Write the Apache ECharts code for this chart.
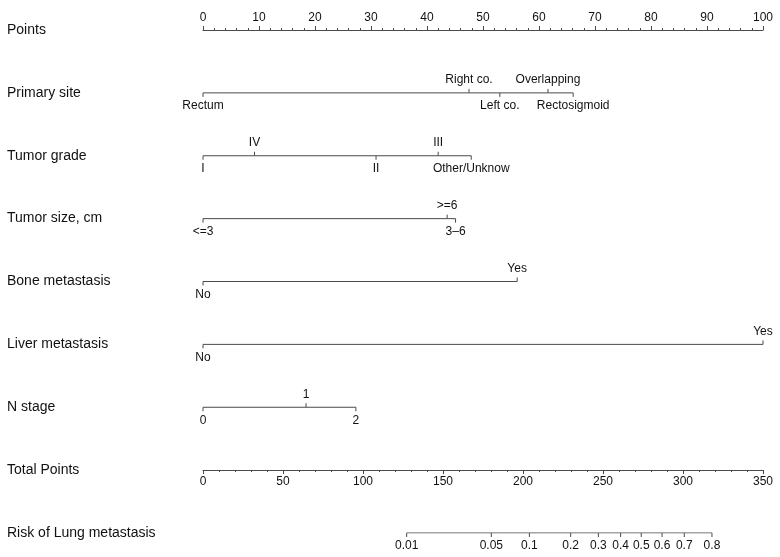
<!DOCTYPE html>
<html>
<head>
<meta charset="utf-8">
<script src="https://cdn.jsdelivr.net/npm/echarts@6.0.0/dist/echarts.min.js"></script>
<style>
html, body { margin: 0; padding: 0; background: #fff; }
#chart { width: 780px; height: 557px; }
</style>
</head>
<body>
<div id="chart"></div>
<script>
// row titles, top to bottom
const rowTitles = ['Points', 'Primary site', 'Tumor grade', 'Tumor size, cm', 'Bone metastasis',
	'Liver metastasis', 'N stage', 'Total Points', 'Risk of Lung metastasis'];

// levels of each predictor, sorted by points (0-100 scale)
const siteLabels = ['Rectum', 'Right co.', 'Left co.', 'Overlapping', 'Rectosigmoid'];
const sitePoints = [0, 47.5, 53, 61.6, 66.1];
const gradeLabels = ['I', 'IV', 'II', 'III', 'Other/Unknow'];
const gradePoints = [0, 9.2, 30.9, 42, 47.9];
const sizeLabels = ['<=3', '>=6', '3–6'];
const sizePoints = [0, 43.6, 45.1];
const boneLabels = ['No', 'Yes'];
const bonePoints = [0, 56.1];
const liverLabels = ['No', 'Yes'];
const liverPoints = [0, 100];
const nLabels = ['0', '1', '2'];
const nPoints = [0, 18.4, 27.3];

// risk scale: label and where it sits on the total points axis
const riskLabels = ['0.01', '0.05', '0.1', '0.2', '0.3', '0.4', '0.5', '0.6', '0.7', '0.8'];
const riskTotal = [127.3, 180.2, 204, 229.8, 247.1, 261, 273.9, 286.9, 300.8, 318.1];

const LINE = '#4a4a4a';
const TEXT = '#111';
const FONT = '"Liberation Sans", Arial, sans-serif';

const variables = [
	[siteLabels, sitePoints],
	[gradeLabels, gradePoints],
	[sizeLabels, sizePoints],
	[boneLabels, bonePoints],
	[liverLabels, liverPoints],
	[nLabels, nPoints]
];

// one tick per level; labels alternate below / above
const tickItems = [];
variables.forEach(([labels, pts], k) => {
	labels.forEach((lab, j) => {
		tickItems.push({ value: [pts[j], k + 1], name: lab, up: j % 2 === 1 });
	});
});
const riskItems = riskLabels.map((lab, j) => ({ value: [riskTotal[j], 8], name: lab, up: false }));

function tickRenderer(items) {
	return function(params, api) {
		const it = items[params.dataIndex];
		const p = api.coord(it.value);
		const d = it.up ? -1 : 1;
		return {
			type: 'group',
			children: [
				{
					type: 'line',
					shape: { x1: p[0], y1: p[1], x2: p[0], y2: p[1] + d * 4 },
					style: { stroke: LINE, lineWidth: 1 }
				},
				{
					type: 'text',
					x: p[0],
					y: p[1] + d * 13,
					style: {
						text: it.name, align: 'center', verticalAlign: 'middle',
						fontSize: 12, fontFamily: FONT, fill: TEXT
					}
				}
			]
		};
	};
}

const lineSeries = variables.map(([labels, pts], k) => ({
	type: 'line',
	xAxisIndex: 0,
	yAxisIndex: 0,
	symbol: 'none',
	silent: true,
	lineStyle: { color: LINE, width: 1 },
	data: pts.map(v => [v, k + 1])
}));

const axisStyle = {
	axisLine: { lineStyle: { color: LINE, width: 1 } },
	axisTick: { length: 4, lineStyle: { color: LINE } },
	minorTick: { show: true, splitNumber: 5, length: 2, lineStyle: { color: LINE } },
	axisLabel: { margin: 6, fontSize: 12, color: TEXT, fontFamily: FONT, showMinLabel: true, showMaxLabel: true },
	splitLine: { show: false },
	minorSplitLine: { show: false }
};

const chart = echarts.init(document.getElementById('chart'));
chart.setOption({
	animation: false,
	backgroundColor: '#fff',
	grid: [
		{ left: 203, right: 17, top: 30, bottom: 24, outerBoundsMode: 'none' },
		{ left: 203, right: 17, top: 460, bottom: 87, outerBoundsMode: 'none' }
	],
	xAxis: [
		Object.assign({ type: 'value', gridIndex: 0, position: 'top', min: 0, max: 100, interval: 10 }, axisStyle),
		Object.assign({ type: 'value', gridIndex: 1, position: 'bottom', min: 0, max: 350, interval: 50 }, axisStyle),
		{ type: 'value', gridIndex: 0, position: 'bottom', min: 0, max: 350, show: false }
	],
	yAxis: [
		{
			type: 'value', gridIndex: 0, min: 0, max: 8, interval: 1, inverse: true,
			axisLine: { show: false }, axisTick: { show: false }, splitLine: { show: false },
			axisLabel: {
				formatter: v => rowTitles[v] || '',
				align: 'left', margin: 196, fontSize: 14, color: TEXT, fontFamily: FONT
			}
		},
		{ type: 'value', gridIndex: 1, show: false }
	],
	series: lineSeries.concat([
		{
			type: 'custom',
			xAxisIndex: 0,
			yAxisIndex: 0,
			silent: true,
			renderItem: tickRenderer(tickItems),
			data: tickItems.map(it => it.value)
		},
		{
			type: 'line',
			xAxisIndex: 2,
			yAxisIndex: 0,
			symbol: 'none',
			silent: true,
			lineStyle: { color: LINE, width: 1 },
			data: [[riskTotal[0], 8], [riskTotal[riskTotal.length - 1], 8]]
		},
		{
			type: 'custom',
			xAxisIndex: 2,
			yAxisIndex: 0,
			silent: true,
			renderItem: tickRenderer(riskItems),
			data: riskItems.map(it => it.value)
		}
	])
});
</script>
</body>
</html>
